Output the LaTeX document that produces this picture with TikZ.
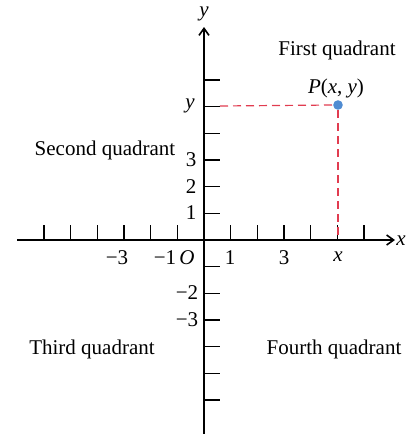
\documentclass[tikz,border=0pt]{standalone}
\usepackage{fontspec}
\setmainfont{Liberation Serif}
\usetikzlibrary{arrows.meta}
\definecolor{dashred}{RGB}{225,60,80}
\definecolor{dotblue}{RGB}{80,140,210}
\tikzset{
  axisline/.style={line width=0.8pt, -{Straight Barb[length=3.5pt,width=5pt]}},
  tickline/.style={line width=0.75pt},
  guide/.style={dashred, line width=0.6pt, dash pattern=on 4pt off 2.5pt},
  lbl/.style={inner sep=0pt, font=\fontsize{10.5}{12}\selectfont},
  quad/.style={inner sep=0pt, font=\fontsize{10.5}{12}\selectfont}
}
\begin{document}
\begin{tikzpicture}[x=0.5pt,y=-0.5pt]
\useasboundingbox (0,0) rectangle (407,434);
\coordinate (O) at (204,240);
\coordinate (xl) at (17,240);
\coordinate (xr) at (395,240);
\coordinate (yb) at (204,434);
\coordinate (yt) at (204,27);
\draw[axisline] (xl) -- (xr);
\draw[axisline] (yb) -- (yt);
\foreach \k in {-6,...,-1,1,2,...,6}{
  \draw[tickline] ({204+26.67*\k},240) -- ({204+26.67*\k},225);
  \draw[tickline] (204,{240-26.67*\k}) -- (220,{240-26.67*\k});
}
\coordinate (ytick) at (220,106);
\coordinate (xtick) at (338,240);
\node[circle, fill=dotblue, inner sep=0pt, minimum size=4.8pt] (P) at (338,105) {};
\draw[guide] (ytick) -- (P.west);
\draw[guide] (P.south) -- (xtick);
% labels
\node[lbl] (xname) at (401,241) {\textit{x}};
\node[lbl] (yname) at (204,14) {\textit{y}};
\node[lbl] (yy) at (190,106) {\textit{y}};
\node[lbl] (y3) at (191,160) {3};
\node[lbl] (y2) at (191,187) {2};
\node[lbl] (y1) at (191,213) {1};
\node[lbl] (ym2) at (187,293) {−2};
\node[lbl] (ym3) at (187,320) {−3};
\node[lbl] (xm3) at (117,258) {−3};
\node[lbl] (xm1) at (165,258) {−1};
\node[lbl] (oo) at (187,258) {\textit{O}};
\node[lbl] (x1) at (230,258) {1};
\node[lbl] (x3) at (284,258) {3};
\node[lbl] (xx) at (338,257) {\textit{x}};
\node[lbl] (Plabel) at (336,88) {\textit{P}(\textit{x}, \textit{y})};
\node[quad] (q1) at (337,50) {First quadrant};
\node[quad] (q2) at (105,150) {Second quadrant};
\node[quad] (q3) at (92,349) {Third quadrant};
\node[quad] (q4) at (334,349) {Fourth quadrant};
\end{tikzpicture}
\end{document}
